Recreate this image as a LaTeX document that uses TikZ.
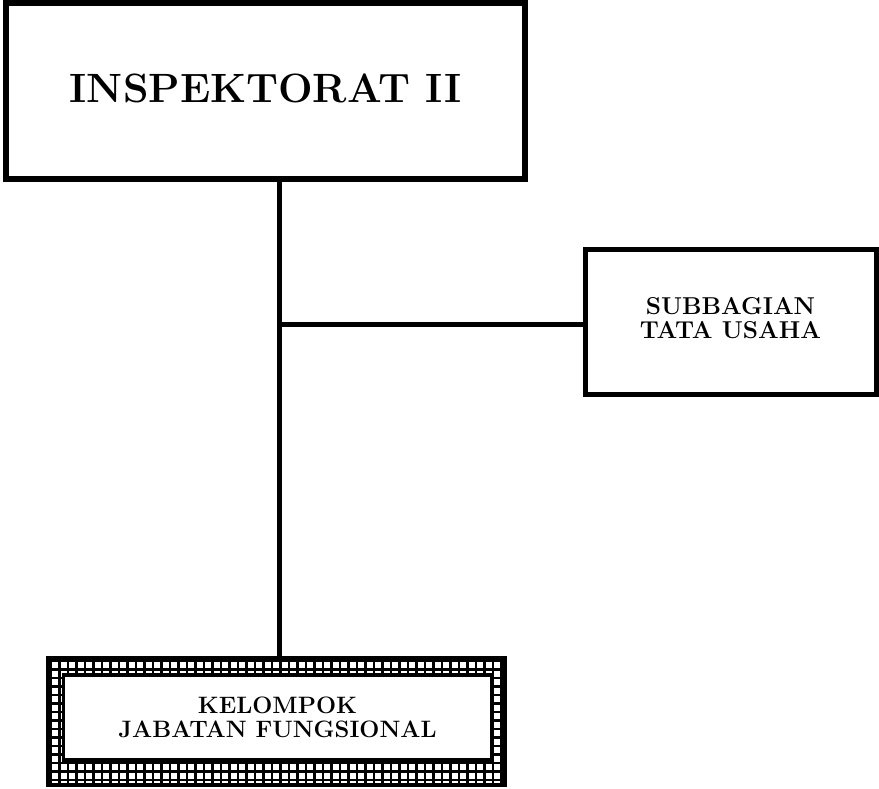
\documentclass[tikz,border=0pt]{standalone}
\usepackage{fontspec}
\begin{document}
\begin{tikzpicture}[x=0.75pt,y=-0.75pt,
  unitbox/.style={draw=black, fill=white, inner sep=0pt, align=center, font=\bfseries},
  conn/.style={line width=3.75pt},
  gridline/.style={line width=1.9pt, black}]
\useasboundingbox (0,0) rectangle (879,789);
% top box
\node[unitbox, line width=4.5pt, minimum width=389.25pt, minimum height=132.4pt,
      font=\bfseries\fontsize{30.7}{36}\selectfont] (top) at (265.5,91) {\raisebox{3.75pt}{INSPEKTORAT II}};
% subbagian
\node[unitbox, line width=3.75pt, minimum width=218.25pt, minimum height=108.75pt,
      font=\bfseries\fontsize{18.3}{18}\selectfont] (sub) at (730.5,321.5) {\raisebox{5pt}{\begin{tabular}{@{}c@{}}SUBBAGIAN\\TATA USAHA\end{tabular}}};
% bottom box outer and grid band
\node[inner sep=0pt, minimum width=342.4pt, minimum height=94.9pt] (kelout) at (276.75,721.75) {};
\begin{scope}[even odd rule]
  \clip (48.5,658.5) rectangle (505,785) (63.5,675) rectangle (491.5,760);
  \fill[white] (48.5,658.5) rectangle (505,785);
  \foreach \x in {51,59.5,...,510} \draw[gridline] (\x,650) -- (\x,790);
  \foreach \y in {661,669.5,...,790} \draw[gridline] (40,\y) -- (510,\y);
\end{scope}
\draw[line width=2.8pt] (kelout.north west) rectangle (kelout.south east);
\node[unitbox, line width=2.5pt, minimum width=321pt, minimum height=63.75pt,
      font=\bfseries\fontsize{17.8}{18}\selectfont] (kel) at (277.5,717.5) {KELOMPOK\\JABATAN FUNGSIONAL};
% connectors
\coordinate (spine) at (279,324);
\draw[conn] (top.south -| spine) -- (kelout.north -| spine);
\draw[conn] (spine) -- (sub.west |- spine);
\end{tikzpicture}
\end{document}
